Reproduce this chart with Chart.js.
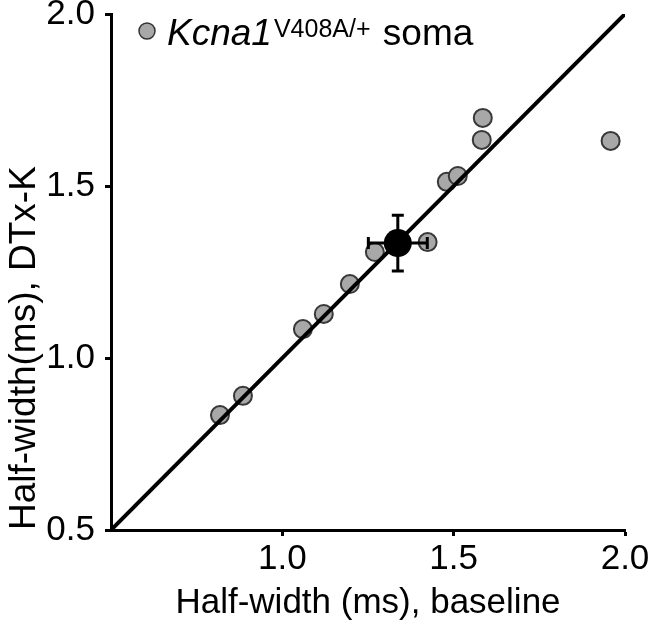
<!DOCTYPE html>
<html><head><meta charset="utf-8">
<script src="https://cdn.jsdelivr.net/npm/chart.js@4/dist/chart.umd.min.js"></script>
<style>html,body{margin:0;padding:0;background:#fff}#wrap{width:652px;height:627px}</style>
</head><body>
<div id="wrap"><canvas id="c" width="652" height="627"></canvas></div>
<script>
// Data
const baselineHW = [0.818, 0.885, 1.060, 1.121, 1.197, 1.270, 1.424, 1.480, 1.512, 1.585, 1.582, 1.958];
const dtxHW      = [0.834, 0.890, 1.084, 1.128, 1.215, 1.308, 1.337, 1.512, 1.529, 1.698, 1.634, 1.631];
const meanBaseline = [1.337];
const meanDtx = [1.334];
const errBaseline = [0.086];
const errDtx = [0.081];
const unityLine = [0.5, 2.0];
const xTicks = [1.0, 1.5, 2.0];
const yTicks = [0.5, 1.0, 1.5, 2.0];
const xTitle = 'Half-width (ms), baseline';
const yTitle = 'Half-width(ms), DTx-K';
const legendItalic = 'Kcna1';
const legendSup = 'V408A/+';
const legendRest = ' soma';

const FONT = '"Liberation Sans", Arial, sans-serif';

const errorBars = {
  id: 'errorBars',
  afterDatasetsDraw(chart) {
    const {ctx, scales: {x, y}} = chart;
    ctx.save();
    ctx.strokeStyle = '#000';
    ctx.lineWidth = 3;
    const cap = 6;
    for (let i = 0; i < meanBaseline.length; i++) {
      const cx = x.getPixelForValue(meanBaseline[i]);
      const cy = y.getPixelForValue(meanDtx[i]);
      const x1 = x.getPixelForValue(meanBaseline[i] - errBaseline[i]);
      const x2 = x.getPixelForValue(meanBaseline[i] + errBaseline[i]);
      const y1 = y.getPixelForValue(meanDtx[i] - errDtx[i]);
      const y2 = y.getPixelForValue(meanDtx[i] + errDtx[i]);
      ctx.beginPath();
      ctx.moveTo(x1, cy); ctx.lineTo(x2, cy);
      ctx.moveTo(x1, cy - cap); ctx.lineTo(x1, cy + cap);
      ctx.moveTo(x2, cy - cap); ctx.lineTo(x2, cy + cap);
      ctx.moveTo(cx, y1); ctx.lineTo(cx, y2);
      ctx.moveTo(cx - cap, y1); ctx.lineTo(cx + cap, y1);
      ctx.moveTo(cx - cap, y2); ctx.lineTo(cx + cap, y2);
      ctx.stroke();
    }
    ctx.restore();
  }
};

const customLegend = {
  id: 'customLegend',
  afterDraw(chart) {
    const ctx = chart.ctx;
    ctx.save();
    ctx.beginPath();
    ctx.arc(147, 31, 8, 0, Math.PI * 2);
    ctx.fillStyle = '#a8a8a8';
    ctx.fill();
    ctx.lineWidth = 1.5;
    ctx.strokeStyle = '#333';
    ctx.stroke();
    ctx.fillStyle = '#000';
    ctx.textBaseline = 'alphabetic';
    ctx.textAlign = 'left';
    let tx = 167;
    ctx.font = 'italic 37px ' + FONT;
    ctx.fillText(legendItalic, tx, 45);
    tx += ctx.measureText(legendItalic).width + 2;
    ctx.font = '25px ' + FONT;
    ctx.fillText(legendSup, tx, 37);
    tx += ctx.measureText(legendSup).width + 2;
    ctx.font = '37px ' + FONT;
    ctx.fillText(legendRest, tx, 45);
    ctx.restore();
  }
};

const pts = baselineHW.map((v, i) => ({x: v, y: dtxHW[i]}));
const meanPts = meanBaseline.map((v, i) => ({x: v, y: meanDtx[i]}));
const linePts = unityLine.map(v => ({x: v, y: v}));

new Chart(document.getElementById('c'), {
  type: 'scatter',
  data: {
    datasets: [
      {label: 'cells', data: pts, order: 3, pointRadius: 9, pointHoverRadius: 9,
       backgroundColor: '#a8a8a8', borderColor: '#383838', borderWidth: 2},
      {label: 'unity', type: 'line', data: linePts, order: 2, borderColor: '#000',
       borderWidth: 4, pointRadius: 0, fill: false, showLine: true},
      {label: 'mean', data: meanPts, order: 1, pointRadius: 14, pointHoverRadius: 14,
       backgroundColor: '#000', borderColor: '#000', borderWidth: 0}
    ]
  },
  options: {
    responsive: false,
    animation: false,
    events: [],
    layout: {padding: {left: 0, top: 14, right: 27, bottom: 0}},
    plugins: {legend: {display: false}, tooltip: {enabled: false}},
    scales: {
      x: {
        type: 'linear', min: 0.5, max: 2.0,
        afterBuildTicks: s => { s.ticks = xTicks.map(v => ({value: v})); },
        afterFit: s => { s.height = 97; s.paddingLeft = 0; s.paddingRight = 0; },
        ticks: {color: '#000', font: {family: FONT, size: 35, lineHeight: 1.2}, padding: 2,
                maxRotation: 0, autoSkip: false, callback: v => Number(v).toFixed(1)},
        grid: {drawOnChartArea: false, drawTicks: true, tickLength: 6, tickWidth: 3, tickColor: '#000'},
        border: {display: true, color: '#000', width: 3},
        title: {display: true, text: xTitle, color: '#000',
                font: {family: FONT, size: 35, lineHeight: 1.2}, padding: {top: 0, bottom: 3}}
      },
      y: {
        type: 'linear', min: 0.5, max: 2.0,
        afterBuildTicks: s => { s.ticks = yTicks.map(v => ({value: v})); },
        afterFit: s => { s.width = 111; s.paddingTop = 0; s.paddingBottom = 0; },
        ticks: {color: '#000', font: {family: FONT, size: 35, lineHeight: 1.2}, padding: 10,
                autoSkip: false, callback: v => Number(v).toFixed(1)},
        grid: {drawOnChartArea: false, drawTicks: true, tickLength: 6, tickWidth: 3, tickColor: '#000'},
        border: {display: true, color: '#000', width: 3},
        title: {display: true, text: yTitle, color: '#000', align: 'start',
                font: {family: FONT, size: 37, lineHeight: 1.2}, padding: {top: 3, bottom: 0}}
      }
    }
  },
  plugins: [errorBars, customLegend]
});
</script>
</body></html>
